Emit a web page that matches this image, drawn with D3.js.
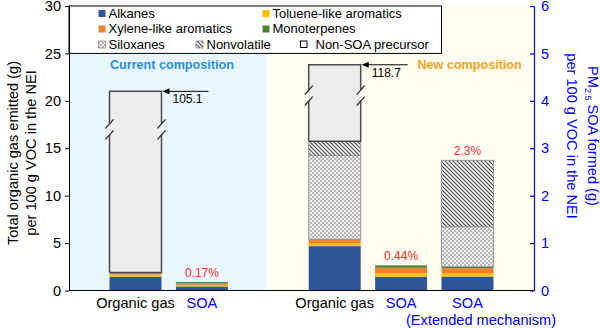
<!DOCTYPE html>
<html>
<head>
<meta charset="utf-8">
<script src="https://cdn.jsdelivr.net/npm/d3@7"></script>
<style>
body { margin: 0; background: #fff; }
svg { font-family: "Liberation Sans", Arial, sans-serif; }
</style>
</head>
<body>
<div id="chart_wrapper"></div>
<script>
// ---- data ----
var barIds      = ["cur_gas", "cur_soa", "new_gas", "new_soa", "new_ext"];
var categories  = ["Organic gas", "SOA", "Organic gas", "SOA", "SOA"];
var subLabels   = ["", "", "", "", "(Extended mechanism)"];
var axisSide    = ["left", "right", "left", "right", "right"];

var alkanes      = [1.45, 0.085, 4.68, 0.29, 0.295];
var toluene      = [0.25, 0.035, 0.28, 0.08, 0.07];
var xylene       = [0.08, 0.04, 0.35, 0.11, 0.105];
var monoterpenes = [0.12, 0.02, 0.10, 0.05, 0.035];
var siloxanes    = [0, 0, 8.84, 0, 0.84];
var nonvolatile  = [0, 0, 1.50, 0, 1.40];
var nonSOA       = [19.1, 0, 8.05, 0, 0];   // shown height, axis is broken

var totalLabels   = ["105.1", null, "118.7", null, null];
var breakAt       = [17, null, 20.55, null, null];
var percentLabels = [null, "0.17%", null, "0.44%", "2.3%"];

var leftTicks  = [0, 5, 10, 15, 20, 25, 30];
var rightTicks = [0, 1, 2, 3, 4, 5, 6];

var keys = ["alkanes", "toluene", "xylene", "monoterpenes", "siloxanes", "nonvolatile", "nonSOA"];
var legendNames = ["Alkanes", "Toluene-like aromatics", "Xylene-like aromatics", "Monoterpenes",
                   "Siloxanes", "Nonvolatile", "Non-SOA precursor"];

// ---- layout ----
var plotL = 69, plotR = 534, plotT = 6, plotB = 290.5, divider = 266;
var legendRight = 441.5;

var svg = d3.select("#chart_wrapper").append("svg").attr("width", 600).attr("height", 328);

var yL = d3.scaleLinear().domain([0, 30]).range([plotB, plotT]);
var yR = d3.scaleLinear().domain([0, 6]).range([plotB, plotT]);
var x = d3.scaleBand().domain(["cur_gas", "cur_soa", "gap", "new_gas", "new_soa", "new_ext"])
    .range([109.5, 493.5]).paddingInner(0.217);
var bw = x.bandwidth();

var defs = svg.append("defs");
var chk = defs.append("pattern").attr("id", "checker").attr("patternUnits", "userSpaceOnUse")
    .attr("width", 4).attr("height", 4);
chk.append("rect").attr("width", 4).attr("height", 4).attr("fill", "#f2f2f2");
chk.append("rect").attr("width", 2).attr("height", 2).attr("fill", "#b9b9b9");
chk.append("rect").attr("x", 2).attr("y", 2).attr("width", 2).attr("height", 2).attr("fill", "#b9b9b9");

var hatch = defs.append("pattern").attr("id", "hatch").attr("patternUnits", "userSpaceOnUse")
    .attr("width", 4).attr("height", 4);
hatch.append("rect").attr("width", 4).attr("height", 4).attr("fill", "#fff");
hatch.append("path").attr("d", "M-1,-1 L5,5 M-1,3 L1,5 M3,-1 L5,1")
    .attr("stroke", "#444").attr("stroke-width", 1.1);

var fills = {
    alkanes: "#2e5596", toluene: "#ffc000", xylene: "#f07f2e", monoterpenes: "#4f7f33",
    siloxanes: "url(#checker)", nonvolatile: "url(#hatch)", nonSOA: "#ededed"
};

// backgrounds
svg.append("rect").attr("x", plotL).attr("y", plotT).attr("width", plotR - plotL).attr("height", plotB - plotT)
    .attr("fill", "#fffdf0");
svg.append("rect").attr("x", plotL).attr("y", yL(25)).attr("width", divider - plotL).attr("height", plotB - yL(25))
    .attr("fill", "#eaf6fd");
svg.append("rect").attr("x", plotL).attr("y", yL(30)).attr("width", legendRight - plotL).attr("height", yL(25) - yL(30))
    .attr("fill", "#fff").attr("stroke", "#000").attr("stroke-width", 1);

// region labels
svg.append("text").attr("x", 110).attr("y", 68.5).attr("font-size", "12.6px").attr("font-weight", "bold")
    .attr("fill", "#1e8ff0").text("Current composition");
svg.append("text").attr("x", 417.5).attr("y", 69).attr("font-size", "12.6px").attr("font-weight", "bold")
    .attr("fill", "#f5a31a").text("New composition");

// stacked bars
var rows = barIds.map(function(id, i) {
    return { id: id, side: axisSide[i], alkanes: alkanes[i], toluene: toluene[i], xylene: xylene[i],
             monoterpenes: monoterpenes[i], siloxanes: siloxanes[i], nonvolatile: nonvolatile[i], nonSOA: nonSOA[i] };
});
var series = d3.stack().keys(keys)(rows);
function yOf(d) { return d.data.side == "left" ? yL : yR; }

series.forEach(function(s) {
    var patterned = (s.key == "siloxanes" || s.key == "nonvolatile");
    svg.append("g").selectAll("rect").data(s.filter(function(d) { return d[1] - d[0] > 0; }))
        .enter().append("rect")
        .attr("x", function(d) { return x(d.data.id); })
        .attr("width", bw)
        .attr("y", function(d) { return yOf(d)(d[1]); })
        .attr("height", function(d) { return yOf(d)(d[0]) - yOf(d)(d[1]); })
        .attr("fill", fills[s.key])
        .attr("stroke", patterned ? "#9a9a9a" : "none")
        .attr("stroke-width", 1);
});

// outline + axis break on the broken bars
var nonSOAseries = series[keys.indexOf("nonSOA")];
nonSOAseries.forEach(function(d, i) {
    if (d[1] - d[0] <= 0) return;
    var xl = x(d.data.id), xr = xl + bw;
    var yT = yL(d[1]), yB = yL(d[0]);
    var yb1 = yL(breakAt[i]) - 5.5, yb2 = yL(breakAt[i]) + 5.5;
    var p = d3.path();
    p.moveTo(xl, yB); p.lineTo(xl, yb2);
    p.moveTo(xl, yb1); p.lineTo(xl, yT); p.lineTo(xr, yT); p.lineTo(xr, yb1);
    p.moveTo(xr, yb2); p.lineTo(xr, yB); p.lineTo(xl, yB);
    svg.append("path").attr("d", p.toString()).attr("fill", "none").attr("stroke", "#4a4a4a").attr("stroke-width", 1.5);
    [xl, xr].forEach(function(ex) {
        [yb1, yb2].forEach(function(yc) {
            svg.append("line").attr("x1", ex - 4).attr("y1", yc + 4.5).attr("x2", ex + 4).attr("y2", yc - 4.5)
                .attr("stroke", "#222").attr("stroke-width", 1.2);
        });
    });
    // arrow with real total
    var tip = xr + 1;
    svg.append("line").attr("x1", tip + 5).attr("y1", yT).attr("x2", tip + 46).attr("y2", yT)
        .attr("stroke", "#000").attr("stroke-width", 1);
    svg.append("path").attr("d", "M" + tip + "," + yT + " L" + (tip + 7) + "," + (yT - 3) + " L" + (tip + 7) + "," + (yT + 3) + " Z")
        .attr("fill", "#000");
    svg.append("text").attr("x", xr + 11).attr("y", yT + 12).attr("font-size", "12px").attr("fill", "#000")
        .text(totalLabels[i]);
});

// percent labels over SOA bars
var topSeries = series[series.length - 1];
topSeries.forEach(function(d, i) {
    if (!percentLabels[i]) return;
    svg.append("text").attr("x", x(d.data.id) + bw / 2).attr("y", yOf(d)(d[1]) - 5)
        .attr("text-anchor", "middle").attr("font-size", "12px").attr("fill", "#f52c2c")
        .text(percentLabels[i]);
});

// axes
var gL = svg.append("g").attr("transform", "translate(" + plotL + ",0)")
    .call(d3.axisLeft(yL).tickValues(leftTicks).tickSize(4).tickSizeOuter(0).tickPadding(4).tickFormat(d3.format("d")));
gL.attr("font-family", null).attr("font-size", null);
gL.selectAll("text").attr("font-size", "14.6px").attr("fill", "#000");
gL.selectAll("line,path").attr("stroke", "#000");

var gR = svg.append("g").attr("transform", "translate(" + plotR + ",0)")
    .call(d3.axisRight(yR).tickValues(rightTicks).tickSize(-4).tickSizeOuter(0).tickPadding(7).tickFormat(d3.format("d")));
gR.attr("font-family", null).attr("font-size", null);
gR.selectAll("text").attr("font-size", "14.6px").attr("fill", "#0000ff");
gR.selectAll("line,path").attr("stroke", "#0000ff").attr("stroke-width", 1.2);

svg.append("line").attr("x1", plotL).attr("x2", plotR).attr("y1", plotB).attr("y2", plotB)
    .attr("stroke", "#000").attr("stroke-width", 1.2);

// category labels
barIds.forEach(function(id, i) {
    var col = categories[i] == "SOA" ? "#0000ff" : "#000";
    svg.append("text").attr("x", x(id) + bw / 2).attr("y", 307.5).attr("text-anchor", "middle")
        .attr("font-size", "14.6px").attr("fill", col).text(categories[i]);
    if (subLabels[i]) {
        svg.append("text").attr("x", x(id) - 35.5).attr("y", 324.5)
            .attr("font-size", "14.6px").attr("fill", col).text(subLabels[i]);
    }
});

// axis titles
var tl = svg.append("g").attr("transform", "translate(18,153) rotate(-90)");
tl.append("text").attr("text-anchor", "middle").attr("font-size", "14.6px").text("Total organic gas emitted (g)");
tl.append("text").attr("y", 18).attr("text-anchor", "middle").attr("font-size", "14.6px").text("per 100 g VOC in the NEI");

var tr = svg.append("g").attr("transform", "translate(588,136) rotate(90)");
var t1 = tr.append("text").attr("text-anchor", "middle").attr("font-size", "14.6px").attr("fill", "#0000ff");
t1.append("tspan").text("PM");
t1.append("tspan").attr("font-size", "9px").attr("dy", 3).text("2.5");
t1.append("tspan").attr("dy", -3).text(" SOA formed (g)");
tr.append("text").attr("y", 21).attr("text-anchor", "middle").attr("font-size", "14.6px").attr("fill", "#0000ff")
    .text("per 100 g VOC in the NEI");

// legend
var legX     = [98.5, 262.5, 98.5, 262.5, 98.5, 196, 300];
var legTextX = [108.5, 272.5, 108.5, 272.5, 108.5, 206.5, 315.5];
var legRow   = [0, 0, 1, 1, 2, 2, 2];
var rowY     = [17.5, 33, 48.5];
legendNames.forEach(function(name, i) {
    var k = keys[i];
    var by = rowY[legRow[i]];
    var sq = svg.append("rect").attr("x", legX[i]).attr("y", by - 7.5).attr("width", 7).attr("height", 7)
        .attr("fill", k == "nonSOA" ? "#fff" : fills[k]);
    if (k == "nonSOA") sq.attr("stroke", "#000").attr("stroke-width", 1).attr("x", legX[i] + 0.5).attr("width", 6.5).attr("height", 6.5);
    else if (k == "siloxanes" || k == "nonvolatile") sq.attr("stroke", "#888").attr("stroke-width", 0.8);
    svg.append("text").attr("x", legTextX[i]).attr("y", by).attr("font-size", "13px").attr("fill", "#000").text(name);
});
</script>
</body>
</html>
